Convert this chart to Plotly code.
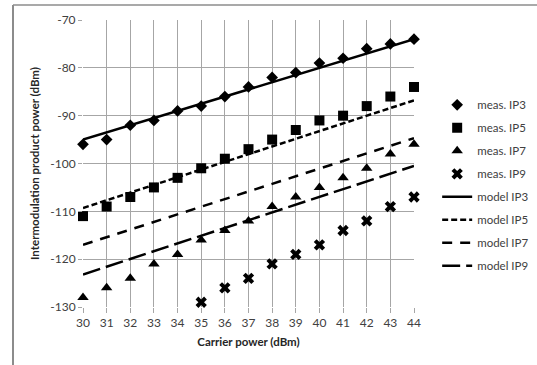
import plotly.graph_objects as go

carrier = list(range(30, 45))
meas_ip3 = [-96, -95, -92, -91, -89, -88, -86, -84, -82, -81, -79, -78, -76, -75, -74]
meas_ip5 = [-111, -109, -107, -105, -103, -101, -99, -97, -95, -93, -91, -90, -88, -86, -84]
meas_ip7 = [-128, -126, -124, -121, -119, -116, -114, -112, -109, -107, -105, -103, -101, -98, -96]
carrier_ip9 = list(range(35, 45))
meas_ip9 = [-129, -126, -124, -121, -119, -117, -114, -112, -109, -107]

model_x = [30, 44]
model_ip3 = [-95.0, -74.0]
model_ip5 = [-109.3, -86.8]
model_ip7 = [-117.0, -94.7]
model_ip9 = [-123.2, -100.5]

x_ticks = carrier
y_ticks = [-130, -120, -110, -100, -90, -80, -70]

FONT = "Lato"
fig = go.Figure()

marker_series = [
    ("meas. IP3", carrier, meas_ip3, "diamond", 9),
    ("meas. IP5", carrier, meas_ip5, "square", 10),
    ("meas. IP7", carrier, meas_ip7, "triangle-up", 10),
    ("meas. IP9", carrier_ip9, meas_ip9, "x", 10),
]
for i, (name, xs, ys, sym, sz) in enumerate(marker_series):
    fig.add_trace(go.Scatter(
        x=xs, y=ys, mode="markers", name=name, legendgroup=f"g{i}",
        cliponaxis=False,
        marker=dict(symbol=sym, size=sz, color="black", line=dict(width=0)),
    ))

line_series = [
    ("model IP3", model_ip3, "solid"),
    ("model IP5", model_ip5, "6px,3px"),
    ("model IP7", model_ip7, "10px,8px"),
    ("model IP9", model_ip9, "18px,6px"),
]
for i, (name, ys, dash) in enumerate(line_series):
    fig.add_trace(go.Scatter(
        x=model_x, y=ys, mode="lines", name=name, legendgroup=f"h{i}",
        line=dict(color="black", width=2.5, dash=dash),
    ))

fig.update_layout(
    width=537, height=365,
    margin=dict(l=83, r=123, t=20, b=58, autoexpand=False),
    paper_bgcolor="white", plot_bgcolor="white",
    font=dict(family=FONT, size=12, color="#404040"),
    showlegend=True,
    legend=dict(
        x=1.07, y=0.755, xanchor="left", yanchor="top",
        font=dict(family=FONT, size=11.5, color="#404040"),
        traceorder="grouped", tracegroupgap=4,
        bgcolor="rgba(0,0,0,0)",
    ),
    xaxis=dict(
        range=[30, 44], tickmode="array", tickvals=x_ticks,
        ticktext=[str(v) for v in x_ticks],
        showgrid=True, gridcolor="#a6a6a6", gridwidth=1,
        ticks="outside", ticklen=5, tickcolor="#a6a6a6",
        zeroline=False, showline=False,
        tickfont=dict(family=FONT, size=12, color="#404040"),
        title=dict(text="<b>Carrier power (dBm)</b>", standoff=8,
                   font=dict(family=FONT, size=11.5, color="#262626")),
    ),
    yaxis=dict(
        range=[-130, -70], tickmode="array", tickvals=y_ticks,
        ticktext=[str(v) for v in y_ticks],
        showgrid=True, gridcolor="#a6a6a6", gridwidth=1,
        ticks="outside", ticklen=4, tickcolor="#a6a6a6",
        zeroline=False, showline=False,
        tickfont=dict(family=FONT, size=12, color="#404040"),
        title=dict(text="<b>Intermodulation product power (dBm)</b>", standoff=8,
                   font=dict(family=FONT, size=11.5, color="#262626")),
    ),
    shapes=[
        dict(type="line", xref="paper", yref="paper",
             x0=(13 - 83) / 331, x1=(545 - 83) / 331,
             y0=(307 - 5) / 287, y1=(307 - 5) / 287,
             line=dict(color="#8c8c8c", width=1.5)),
        dict(type="line", xref="paper", yref="paper",
             x0=(13 - 83) / 331, x1=(13 - 83) / 331,
             y0=(307 - 5) / 287, y1=(307 - 375) / 287,
             line=dict(color="#8c8c8c", width=2)),
    ],
)

fig.write_html("out.html")
